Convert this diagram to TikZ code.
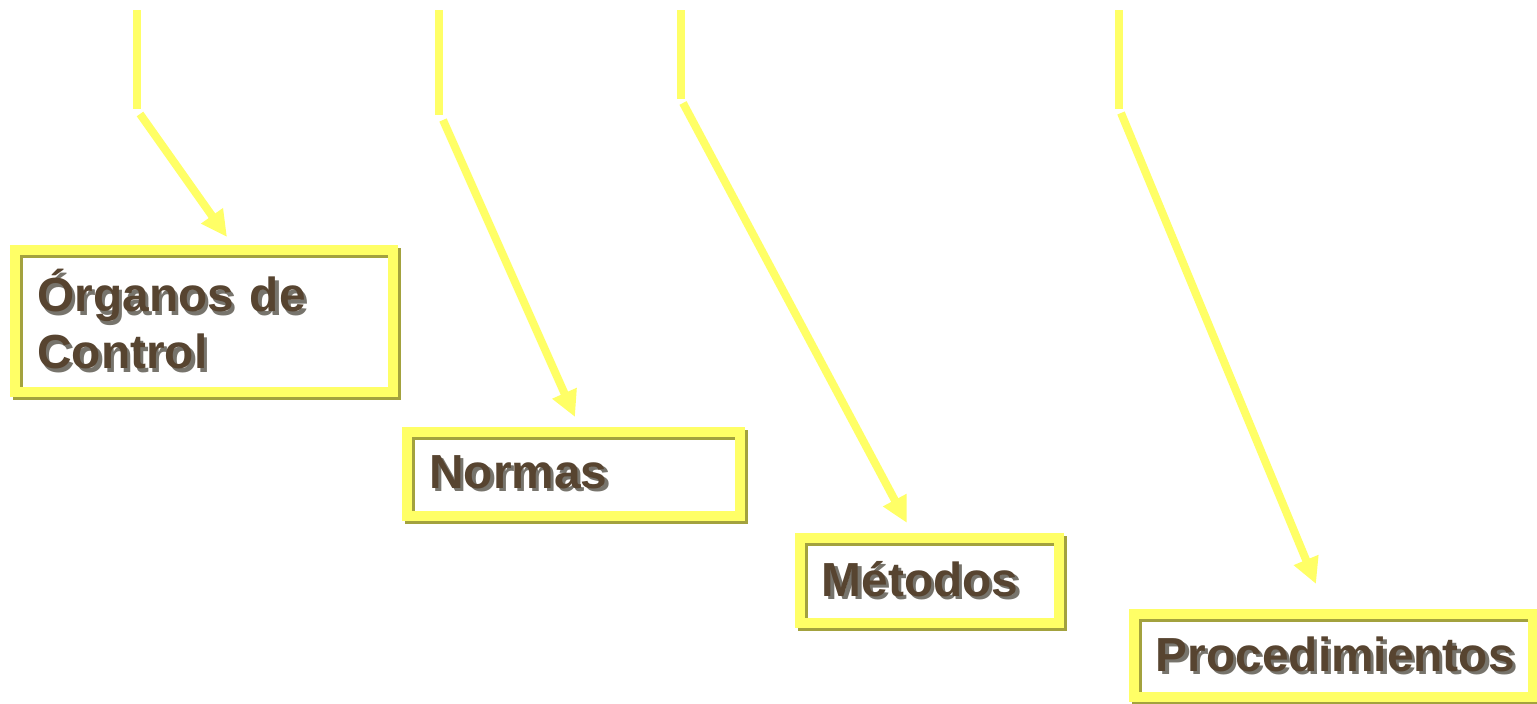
\documentclass[tikz,border=0pt]{standalone}
\usepackage{fontspec}
\setmainfont{Liberation Sans}
\usetikzlibrary{arrows.meta}
\definecolor{amarillo}{HTML}{FFFF66}
\definecolor{oliva}{HTML}{A3A23E}
\definecolor{cafe}{HTML}{574430}
\definecolor{sombratexto}{HTML}{77746C}
\newcommand{\sombra}[1]{\mbox{\makebox[0pt][l]{\hspace{0.9pt}\raisebox{-0.9pt}{\color{sombratexto}#1}}#1}}
\tikzset{
  cuadro/.style={rectangle, inner xsep=0.22cm, inner ysep=0pt, align=left,
    preaction={fill=white},
    preaction={draw=oliva, line width=0.1cm, transform canvas={xshift=0.03cm, yshift=-0.03cm}},
    draw=amarillo, line width=0.1cm, text=cafe,
    font=\fontsize{13.6}{16.2}\selectfont\bfseries},
  tramo/.style={amarillo, line width=0.08cm},
  flecha/.style={->, amarillo, line width=0.08cm}
}
\begin{document}
\begin{tikzpicture}[x=0.01cm, y=-0.01cm, >={Triangle[length=0.26cm, width=0.25cm]}]
  \useasboundingbox[fill=white] (0,0) rectangle (1537,703);
  % cuadros
  \node[cuadro, text width=3.33cm, minimum height=1.41cm] (organos) at (204,321) {\sombra{Órganos de}\\\sombra{Control}};
  \node[cuadro, text width=2.885cm, minimum height=0.84cm] (normas) at (573.75,474) {\sombra{Normas}};
  \node[cuadro, text width=2.15cm, minimum height=0.84cm] (metodos) at (929.5,580.5) {\sombra{Métodos}};
  \node[cuadro, text width=3.55cm, minimum height=0.83cm] (proced) at (1333.5,655.5) {\sombra{Procedimientos}};
  % lineas
  \coordinate (a1) at (137,10);  \coordinate (b1) at (137,109);
  \coordinate (c1) at (140,114); \coordinate (d1) at (227,237);
  \coordinate (a2) at (439,10);  \coordinate (b2) at (439,115);
  \coordinate (c2) at (443,120); \coordinate (d2) at (575,417);
  \coordinate (a3) at (681,10);  \coordinate (b3) at (681,99);
  \coordinate (c3) at (683,103); \coordinate (d3) at (907,523);
  \coordinate (a4) at (1119,10); \coordinate (b4) at (1119,109);
  \coordinate (c4) at (1121,113); \coordinate (d4) at (1316,584);
  \draw[tramo] (a1)--(b1);
  \draw[flecha] (c1)--(d1);
  \draw[tramo] (a2)--(b2);
  \draw[flecha] (c2)--(d2);
  \draw[tramo] (a3)--(b3);
  \draw[flecha] (c3)--(d3);
  \draw[tramo] (a4)--(b4);
  \draw[flecha] (c4)--(d4);
\end{tikzpicture}
\end{document}
